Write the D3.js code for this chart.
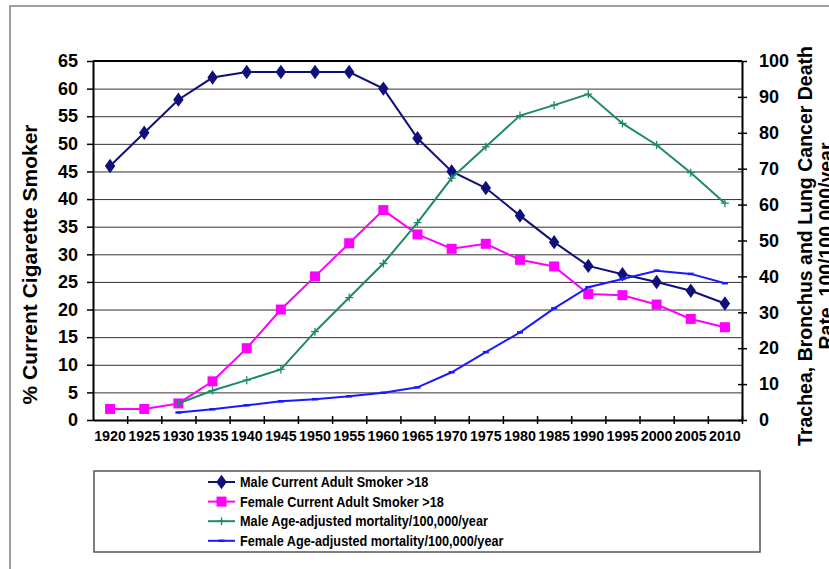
<!DOCTYPE html>
<html><head><meta charset="utf-8">
<script src="https://cdn.jsdelivr.net/npm/d3@7"></script>
<style>
body{margin:0;background:#fff;}
svg{display:block;font-family:Arial,"Liberation Sans",sans-serif;font-weight:bold;}
</style></head>
<body><svg id="c" width="829" height="569"></svg>
<script>
const years = ["1920","1925","1930","1935","1940","1945","1950","1955","1960","1965","1970","1975","1980","1985","1990","1995","2000","2005","2010"];
const maleSmoker   = [46,52,58,62,63,63,63,63,60,51,45,42,37,32.2,27.9,26.4,25,23.4,21.1];
const femaleSmoker = [2,2,3,7,13,20,26,32,38,33.6,31,31.9,29,27.8,22.8,22.6,20.9,18.3,16.8];
const maleMort     = [null,null,4.6,8.2,11.1,14.1,24.6,34.1,43.6,55,67.4,76.1,84.8,87.7,90.8,82.6,76.6,68.9,60.4];
const femaleMort   = [null,null,2.1,3.0,4.1,5.2,5.8,6.6,7.6,9.1,13.3,18.9,24.4,31.1,37,39.3,41.6,40.7,38.1];
const leftTicks  = d3.range(0,66,5);
const rightTicks = d3.range(0,101,10);
const legendLabels = ["Male Current Adult Smoker >18","Female Current Adult Smoker >18","Male Age-adjusted mortality/100,000/year","Female Age-adjusted mortality/100,000/year"];
const leftTitle = "% Current Cigarette Smoker";
const rightTitle = ["Trachea, Bronchus and Lung Cancer Death","Rate, 100/100,000/year"];

const svg = d3.select("#c");
const FONT = "Arial,'Liberation Sans',sans-serif";
const L=93,R=742,T=61,B=420;
const x = d3.scaleBand().domain(years).range([L,R]).padding(0);
const xc = d => x(d)+x.bandwidth()/2;
const yL = d3.scaleLinear().domain([0,65]).range([B,T]);
const yR = d3.scaleLinear().domain([0,100]).range([B,T]);

// outer frame
svg.append("rect").attr("x",10).attr("y",6).attr("width",900).attr("height",700)
  .attr("fill","none").attr("stroke","#808080").attr("stroke-width",1.5);

// gridlines
svg.append("g").attr("transform",`translate(${L},0)`)
  .call(d3.axisLeft(yL).tickValues(leftTicks).tickSize(-(R-L)).tickFormat(""))
  .call(g=>{g.select(".domain").remove();g.selectAll("line").attr("stroke","#333").attr("stroke-width",1);});

// left axis
svg.append("g").attr("transform",`translate(${L},0)`)
  .call(d3.axisLeft(yL).tickValues(leftTicks).tickSizeInner(6).tickSizeOuter(0).tickPadding(9))
  .call(g=>{g.select(".domain").attr("stroke","#000").attr("stroke-width",2);
    g.selectAll("line").attr("stroke","#000").attr("stroke-width",1.5);
    g.selectAll("text").attr("font-size",18).attr("font-weight","bold").attr("fill","#000").attr("font-family",FONT);});

// right axis
svg.append("g").attr("transform",`translate(${R},0)`)
  .call(d3.axisRight(yR).tickValues(rightTicks).tickSizeInner(5).tickSizeOuter(0).tickPadding(12))
  .call(g=>{g.select(".domain").attr("stroke","#000").attr("stroke-width",2);
    g.selectAll(".tick line").attr("x1",-4).attr("x2",5).attr("stroke","#000").attr("stroke-width",1.5);
    g.selectAll("text").attr("font-size",18).attr("font-weight","bold").attr("fill","#000").attr("font-family",FONT);});

// bottom axis labels
svg.append("g").attr("transform",`translate(0,${B})`)
  .call(d3.axisBottom(x).tickSize(0).tickPadding(11))
  .call(g=>{g.select(".domain").attr("stroke","#000").attr("stroke-width",2);
    g.selectAll("text").attr("font-size",14.3).attr("font-weight","bold").attr("fill","#000").attr("font-family",FONT);});
// bottom tick marks at category edges
const xEdge = d3.scaleLinear().domain([0,years.length]).range([L,R]);
svg.append("g").attr("transform",`translate(0,${B})`)
  .call(d3.axisBottom(xEdge).tickValues(d3.range(1,years.length+1)).tickFormat("").tickSizeOuter(0))
  .call(g=>{g.select(".domain").remove();g.selectAll("line").attr("y1",-4).attr("y2",4).attr("stroke","#000").attr("stroke-width",1.5);});

// top border
svg.append("line").attr("x1",L).attr("x2",R).attr("y1",T).attr("y2",T).attr("stroke","#000").attr("stroke-width",2);

const series = [
  {vals:maleSmoker,scale:yL,color:"#10107a",marker:"diamond"},
  {vals:femaleSmoker,scale:yL,color:"#ff00ff",marker:"square"},
  {vals:maleMort,scale:yR,color:"#1f8a6a",marker:"plus"},
  {vals:femaleMort,scale:yR,color:"#1a1aff",marker:"dash"}
];
function drawMarker(g,type,color){
  if(type==="diamond") g.append("path").attr("d",d3.symbol(d3.symbolDiamond,60)()).attr("fill",color).attr("transform","scale(1.25,1)");
  else if(type==="square") g.append("rect").attr("x",-5).attr("y",-5).attr("width",10).attr("height",10).attr("fill",color);
  else if(type==="plus") g.append("path").attr("d","M-4,0H4M0,-4V4").attr("stroke",color).attr("stroke-width",1.3);
  else g.append("path").attr("d","M-3,0H3").attr("stroke",color).attr("stroke-width",2.5);
}
series.forEach(s=>{
  const pts = years.map((yr,i)=>({yr,v:s.vals[i]})).filter(p=>p.v!=null);
  const line = d3.line().x(p=>xc(p.yr)).y(p=>s.scale(p.v));
  svg.append("path").datum(pts).attr("d",line).attr("fill","none").attr("stroke",s.color).attr("stroke-width",2);
  pts.forEach(p=>{
    const g = svg.append("g").attr("transform",`translate(${xc(p.yr)},${s.scale(p.v)})`);
    drawMarker(g,s.marker,s.color);
  });
});

// axis titles
svg.append("text").attr("transform",`translate(37,${(T+B)/2+24}) rotate(-90)`).attr("text-anchor","middle")
  .attr("font-size",21).text(leftTitle);
rightTitle.forEach((t,i)=>{
  svg.append("text").attr("transform",`translate(${812+i*21},246) rotate(-90)`).attr("text-anchor","middle")
    .attr("font-size",19.5).text(t);
});

// legend
svg.append("rect").attr("x",94).attr("y",471).attr("width",666).attr("height",81)
  .attr("fill","none").attr("stroke","#555").attr("stroke-width",1.5);
series.forEach((s,i)=>{
  const yy = 482 + i*19.6;
  svg.append("line").attr("x1",208).attr("x2",235).attr("y1",yy).attr("y2",yy).attr("stroke",s.color).attr("stroke-width",2);
  const g = svg.append("g").attr("transform",`translate(221.5,${yy})`);
  drawMarker(g,s.marker,s.color);
  svg.append("text").attr("transform",`translate(240,${yy+5.2}) scale(0.876,1)`).attr("font-size",14.5)
    .attr("font-family",FONT).text(legendLabels[i]);
});
</script></body></html>
